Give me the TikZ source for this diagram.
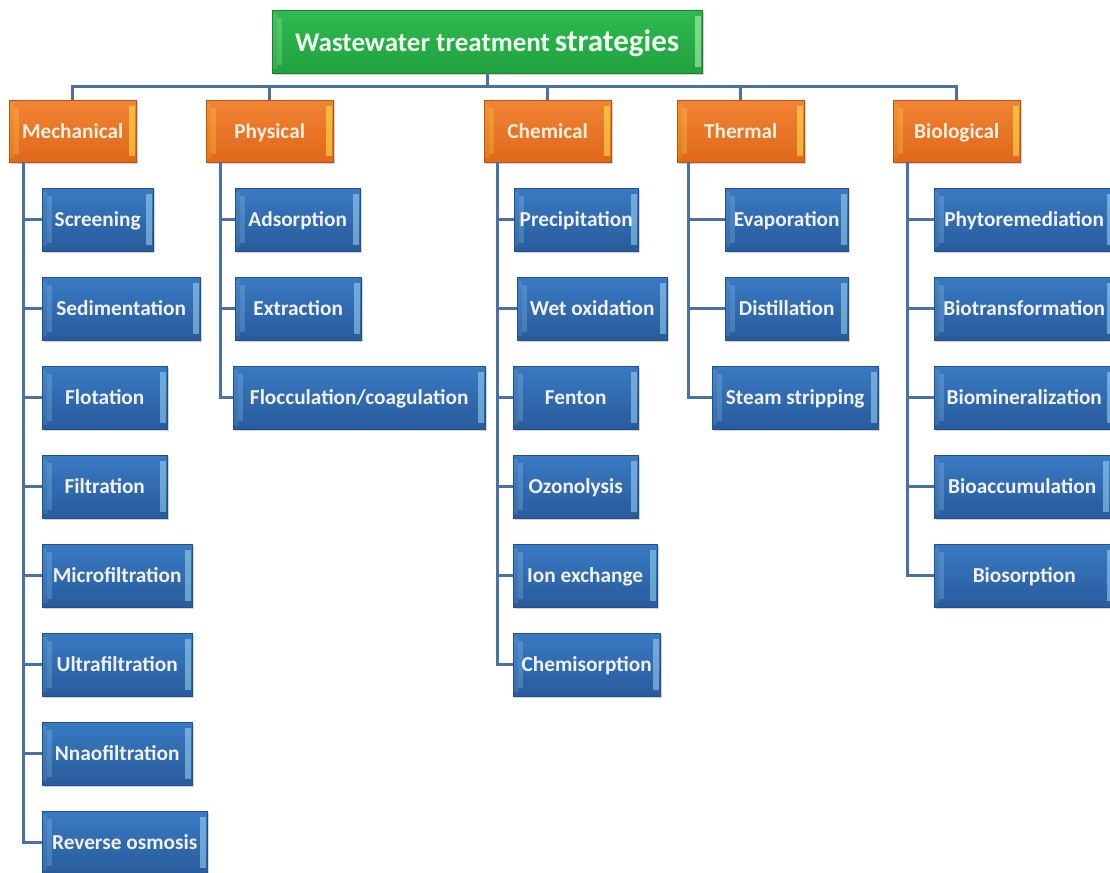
\documentclass[tikz,border=0pt]{standalone}
\usepackage{fontspec}
\setmainfont{Carlito}
\usepackage{xcolor}
\usepackage{tikz}
\usetikzlibrary{shadows,calc}

\definecolor{grnTop}{HTML}{2FBA50}
\definecolor{grnBot}{HTML}{1FA23F}
\definecolor{grnLine}{HTML}{1C7F33}
\definecolor{orgTop}{HTML}{F28535}
\definecolor{orgBot}{HTML}{E0661A}
\definecolor{orgLine}{HTML}{B85510}
\definecolor{bluTop}{HTML}{3A7AC3}
\definecolor{bluBot}{HTML}{285B9C}
\definecolor{bluLine}{HTML}{21508C}
\definecolor{linkBlue}{HTML}{4A70A8}

\tikzset{bevel/.style={path picture={
  \fill[#1, opacity=0.22] ([xshift=5pt,yshift=-8pt]path picture bounding box.north west)
      rectangle ([xshift=10pt,yshift=8pt]path picture bounding box.south west);
  \fill[#1, opacity=0.12] ([xshift=1pt,yshift=-4pt]path picture bounding box.north west)
      rectangle ([xshift=5pt,yshift=4pt]path picture bounding box.south west);
  \fill[#1, opacity=0.5] ([xshift=-7pt,yshift=-6pt]path picture bounding box.north east)
      rectangle ([xshift=-1pt,yshift=6pt]path picture bounding box.south east);
}}}
\tikzstyle{box}     =[draw, rectangle, anchor=north west, inner sep=0pt, minimum height=63,
                      text height=14pt, text depth=0pt, font=\bfseries\fontsize{21.3}{25}\selectfont,
                      drop shadow={shadow xshift=2pt, shadow yshift=-2pt, opacity=0.35}]
\tikzstyle{titlebox}=[box, top color=grnTop, bottom color=grnBot, draw=grnLine,
                      text=green!6!white, bevel=green!20!white, text height=19pt]
\tikzstyle{catbox}  =[box, top color=orgTop, bottom color=orgBot, draw=orgLine,
                      text=orange!12!white, bevel=yellow!70!white, minimum width=127, minimum height=62]
\tikzstyle{subbox}  =[box, top color=bluTop, bottom color=bluBot, draw=bluLine,
                      text=blue!5!white, bevel=cyan!35!white]
\tikzstyle{link}    =[draw=linkBlue, line width=3pt]

\begin{document}
\begin{tikzpicture}[x=1pt, y=-1pt]

  \useasboundingbox (0,0) rectangle (1110,872);
  \clip (0,0) rectangle (1110,872);

  % root
  \node[titlebox, minimum width=430] (root) at (272,10)
    {{\fontsize{27}{31}\selectfont Wastewater treatment} {\fontsize{31}{35}\selectfont strategies}};

  % strategies
  \node[catbox] (mech)  at (9,100)   {Mechanical};
  \node[catbox] (phys)  at (206,100) {Physical};
  \node[catbox] (chem)  at (484,100) {Chemical};
  \node[catbox] (therm) at (677,100) {Thermal};
  \node[catbox] (bio)   at (893,100) {Biological};

  % mechanical
  \node[subbox, minimum width=111] (scr) at (42,188) {Screening};
  \node[subbox, minimum width=158] (sed) at (42,277) {Sedimentation};
  \node[subbox, minimum width=125] (flo) at (42,366) {Flotation};
  \node[subbox, minimum width=125] (fil) at (42,455) {Filtration};
  \node[subbox, minimum width=150] (mic) at (42,544) {Microfiltration};
  \node[subbox, minimum width=150] (ult) at (42,633) {Ultrafiltration};
  \node[subbox, minimum width=150] (nan) at (42,722) {Nnaofiltration};
  \node[subbox, minimum width=165] (rev) at (42,811) {Reverse osmosis};

  % physical
  \node[subbox, minimum width=125] (ads) at (235,188) {Adsorption};
  \node[subbox, minimum width=126] (ext) at (235,277) {Extraction};
  \node[subbox, minimum width=252] (flc) at (233,366) {Flocculation/coagulation};

  % chemical
  \node[subbox, minimum width=124] (pre) at (514,188) {Precipitation};
  \node[subbox, minimum width=150] (wet) at (517,277) {Wet oxidation};
  \node[subbox, minimum width=125] (fen) at (513,366) {Fenton};
  \node[subbox, minimum width=125] (ozo) at (513,455) {Ozonolysis};
  \node[subbox, minimum width=144] (ion) at (513,544) {Ion exchange};
  \node[subbox, minimum width=147] (chs) at (513,633) {Chemisorption};

  % thermal
  \node[subbox, minimum width=123] (eva) at (725,188) {Evaporation};
  \node[subbox, minimum width=123] (dis) at (725,277) {Distillation};
  \node[subbox, minimum width=166] (stm) at (712,366) {Steam stripping};

  % biological
  \node[subbox, minimum width=180] (phy) at (934,188) {Phytoremediation};
  \node[subbox, minimum width=180] (btr) at (934,277) {Biotransformation};
  \node[subbox, minimum width=180] (bmn) at (934,366) {Biomineralization};
  \node[subbox, minimum width=176] (bac) at (934,455) {Bioaccumulation};
  \node[subbox, minimum width=180] (bso) at (934,544) {Biosorption};

  % top bus
  \coordinate (bus) at (0,87);
  \draw[link] (root.south) -- (root.south |- bus);
  \draw[link] (mech.north) -- (mech.north |- bus) -- (bio.north |- bus) -- (bio.north);
  \foreach \c in {phys,chem,therm}
    \draw[link] (\c.north) -- (\c.north |- bus);

  % spines
  \coordinate (msp) at ([xshift=14pt]mech.south west);
  \coordinate (psp) at ([xshift=14pt]phys.south west);
  \coordinate (csp) at ([xshift=13pt]chem.south west);
  \coordinate (tsp) at ([xshift=11pt]therm.south west);
  \coordinate (bsp) at ([xshift=14pt]bio.south west);
  \draw[link] (msp) |- (rev.west);
  \draw[link] (psp) |- (flc.west);
  \draw[link] (csp) |- (chs.west);
  \draw[link] (tsp) |- (stm.west);
  \draw[link] (bsp) |- (bso.west);
  \foreach \n in {scr,sed,flo,fil,mic,ult,nan}
    \draw[link] (\n.west) -- (\n.west -| msp);
  \foreach \n in {ads,ext}
    \draw[link] (\n.west) -- (\n.west -| psp);
  \foreach \n in {pre,wet,fen,ozo,ion}
    \draw[link] (\n.west) -- (\n.west -| csp);
  \foreach \n in {eva,dis}
    \draw[link] (\n.west) -- (\n.west -| tsp);
  \foreach \n in {phy,btr,bmn,bac}
    \draw[link] (\n.west) -- (\n.west -| bsp);

\end{tikzpicture}
\end{document}
